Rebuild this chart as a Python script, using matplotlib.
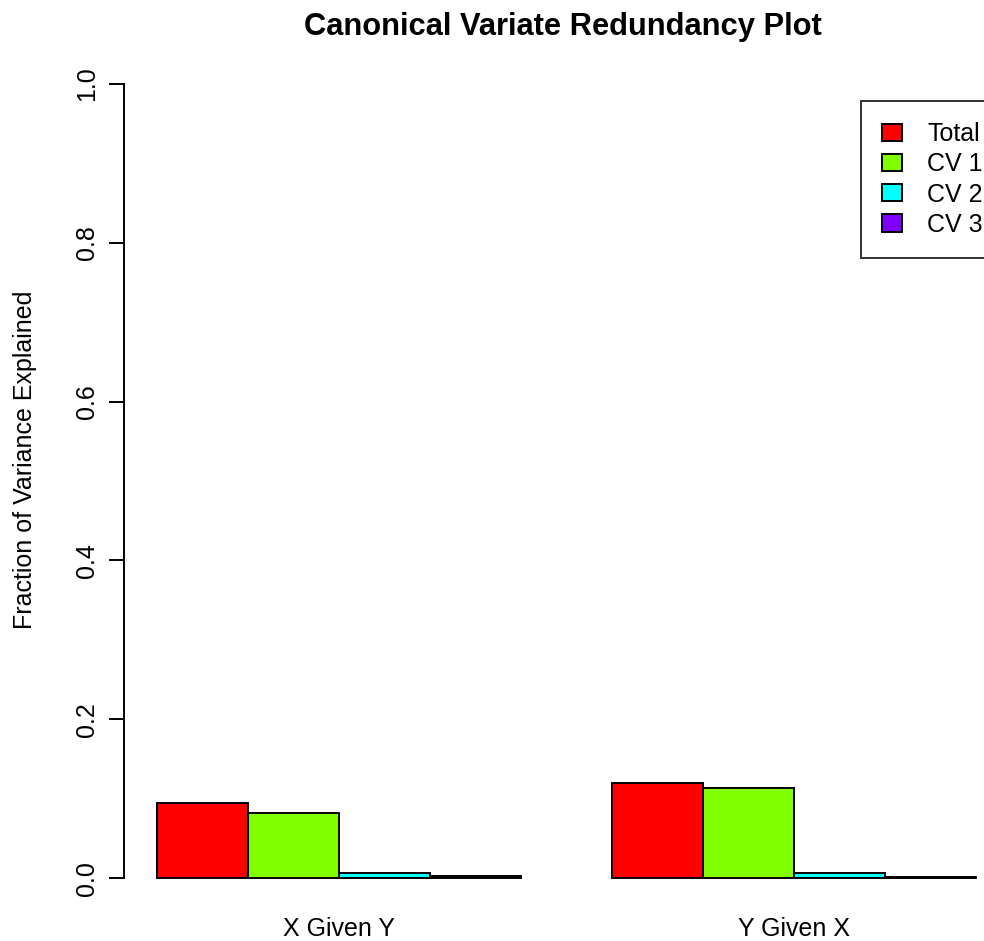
import matplotlib
matplotlib.use("Agg")
import matplotlib.pyplot as plt
import numpy as np

groups = ["X Given Y", "Y Given X"]
series = ["Total", "CV 1", "CV 2", "CV 3"]
values = {
    "Total": [0.0945, 0.1200],
    "CV 1": [0.0819, 0.1137],
    "CV 2": [0.0071, 0.0067],
    "CV 3": [0.0029, 0.0013],
}
colors = ["#FF0000", "#80FF00", "#00FFFF", "#8000FF"]
yticks = [0.0, 0.2, 0.4, 0.6, 0.8, 1.0]
ytick_labels = ["0.0", "0.2", "0.4", "0.6", "0.8", "1.0"]

plt.rcParams['font.family'] = ['Liberation Sans', 'DejaVu Sans']

W, H = 984, 941
fig = plt.figure(figsize=(W / 100, H / 100), dpi=100)

# axes geometry (pixels)
x_left_px = 124.2
unit_px = 91.0
xlim = (0.64, 10.36)
y_bottom_px, y_top_px = 910.0, 52.0
ax = fig.add_axes([x_left_px / W, (H - y_bottom_px) / H,
                   (xlim[1] - xlim[0]) * unit_px / W, (y_bottom_px - y_top_px) / H])
ax.set_xlim(*xlim)
ax.set_ylim(-0.04, 1.04)

nser = len(series)
for gi, g in enumerate(groups):
    start = 1 + gi * (nser + 1)
    for si, s in enumerate(series):
        ax.bar(start + si, values[s][gi], width=1.0, align='edge', bottom=0,
               color=colors[si], edgecolor='black', linewidth=1.4,
               label=s if gi == 0 else None, clip_on=False)

for sp in ['top', 'right', 'bottom']:
    ax.spines[sp].set_visible(False)
ax.spines['left'].set_bounds(0, 1)
ax.spines['left'].set_linewidth(1.4)
ax.spines['left'].set_position(('data', 0.64))

ax.set_yticks(yticks)
ax.set_yticklabels(ytick_labels, rotation=90, va='center', fontsize=18)
ax.tick_params(axis='y', length=10.8, width=1.4, pad=7.2)

centers = [1 + gi * (nser + 1) + nser / 2 for gi in range(len(groups))]
ax.set_xticks(centers)
ax.set_xticklabels(groups, fontsize=18)
ax.tick_params(axis='x', length=0, pad=5.0)

fig.text(563 / W, 1 - 35 / H, "Canonical Variate Redundancy Plot",
         ha='center', va='baseline', fontsize=22.2, fontweight='bold')
fig.text(32 / W, 1 - 460 / H, "Fraction of Variance Explained", rotation=90,
         rotation_mode='anchor', ha='center', va='baseline', fontsize=18)

leg = ax.legend(loc='upper left', bbox_to_anchor=(861 / W, 1 - 101 / H),
                bbox_transform=fig.transFigure, fontsize=18, frameon=True,
                fancybox=False, shadow=False, borderpad=0.84,
                handlelength=0.8, handleheight=0.68, handletextpad=1.0,
                labelspacing=0.25, borderaxespad=0)
leg.get_frame().set_edgecolor('black')
leg.get_frame().set_linewidth(1.4)

fig.savefig("out.png", dpi=100)
